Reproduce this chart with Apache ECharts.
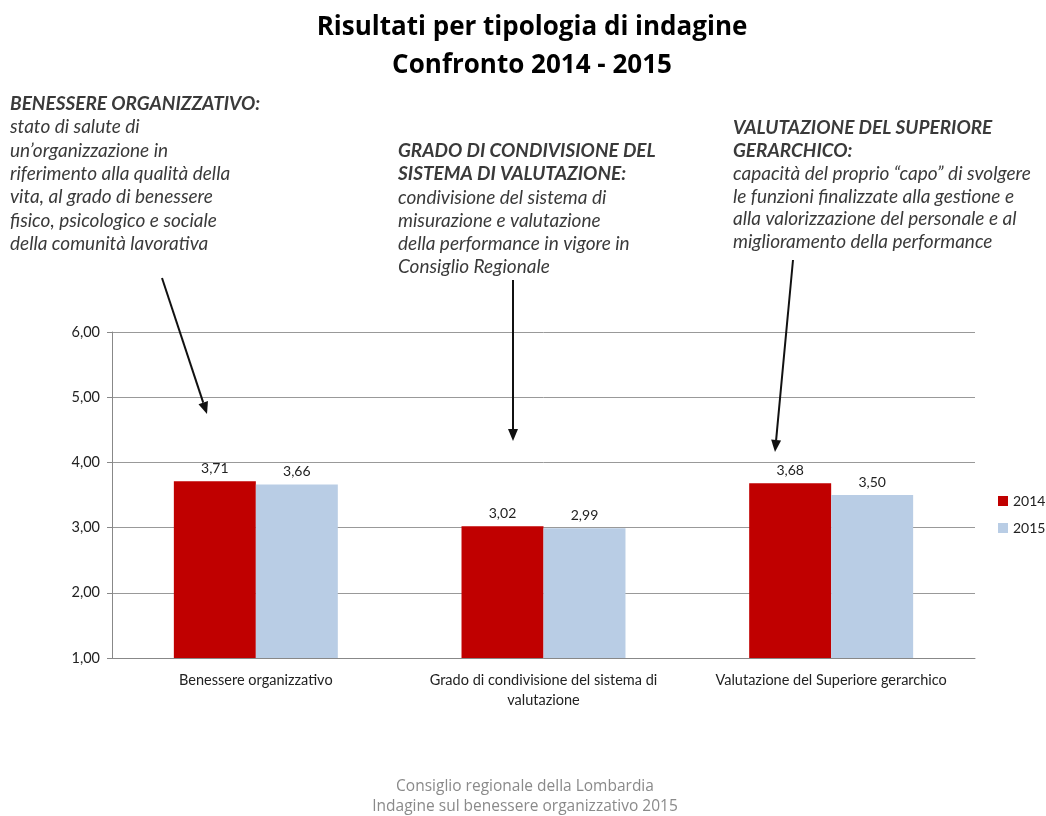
<!DOCTYPE html>
<html><head><meta charset="utf-8">
<script src="https://cdn.jsdelivr.net/npm/echarts@6/dist/echarts.min.js"></script>
<style>html,body{margin:0;padding:0;background:#fff}#c{width:1046px;height:816px}</style>
</head><body><div id="c"></div>
<script>
var categories = ['Benessere organizzativo', 'Grado di condivisione del sistema di\nvalutazione', 'Valutazione del Superiore gerarchico'];
var values2014 = [3.71, 3.02, 3.68];
var values2015 = [3.66, 2.99, 3.50];
var seriesNames = ['2014', '2015'];
var yTicks = {min: 1, max: 6, interval: 1};

var noteLeft = [
  {t: 'BENESSERE ORGANIZZATIVO:', b: true},
  {t: 'stato di salute di'}, {t: 'un\u2019organizzazione in'}, {t: 'riferimento alla qualità della'},
  {t: 'vita, al grado di benessere'}, {t: 'fisico, psicologico e sociale'}, {t: 'della comunità lavorativa'}
];
var noteMid = [
  {t: 'GRADO DI CONDIVISIONE DEL', b: true}, {t: 'SISTEMA DI VALUTAZIONE:', b: true},
  {t: 'condivisione del sistema di'}, {t: 'misurazione e valutazione'},
  {t: 'della performance in vigore in'}, {t: 'Consiglio Regionale'}
];
var noteRight = [
  {t: 'VALUTAZIONE DEL SUPERIORE', b: true}, {t: 'GERARCHICO:', b: true},
  {t: 'capacità del proprio \u201ccapo\u201d di svolgere'}, {t: 'le funzioni finalizzate alla gestione e'},
  {t: 'alla valorizzazione del personale e al'}, {t: 'miglioramento della performance'}
];
var titleLines = ['Risultati per tipologia di indagine', 'Confronto 2014 - 2015'];
var footerLines = ['Consiglio regionale della Lombardia', 'Indagine sul benessere organizzativo 2015'];

var FONT = 'Lato';
function fmt(v){ return v.toFixed(2).replace('.', ','); }

var graphics = [];
function addNote(lines, x, yc0, dy){
  lines.forEach(function(l, i){
    graphics.push({type:'text', x:x, y:yc0 + i*dy, style:{
      text:l.t, fontFamily:FONT, fontSize:19, fontStyle:'italic', fontWeight:l.b?'bold':'normal', fill:'#3a3a3a',
      verticalAlign:'middle', align:'left'}});
  });
}
addNote(noteLeft, 10, 104, 23.3);
addNote(noteMid, 398, 151, 23.2);
addNote(noteRight, 733, 128, 22.8);

function arrow(x1,y1,x2,y2){
  var ang = Math.atan2(y2-y1, x2-x1), L = 12, W = 5;
  var bx = x2 - L*Math.cos(ang), by = y2 - L*Math.sin(ang);
  var px = -Math.sin(ang), py = Math.cos(ang);
  graphics.push({type:'line', shape:{x1:x1,y1:y1,x2:bx,y2:by}, style:{stroke:'#111', lineWidth:2}, z:100});
  graphics.push({type:'polygon', shape:{points:[[x2,y2],[bx+px*W,by+py*W],[bx-px*W,by-py*W]]}, style:{fill:'#111'}, z:100});
}
arrow(162, 278, 207, 414);
arrow(513, 280, 513, 441);
arrow(793, 260, 775, 452);

titleLines.forEach(function(t, i){
  graphics.push({type:'text', x:532, y:28 + i*38, style:{text:t, fontFamily:'Open Sans', fontSize:26, fontWeight:'bold',
    fill:'#000', align:'center', verticalAlign:'middle'}});
});
footerLines.forEach(function(t, i){
  graphics.push({type:'text', x:525, y:787 + i*20, style:{text:t, fontFamily:'Open Sans', fontSize:15.5,
    fill:'#8a8a8a', align:'center', verticalAlign:'middle'}});
});

var chart = echarts.init(document.getElementById('c'));
chart.setOption({
  animation:false,
  backgroundColor:'#fff',
  grid:{left:112, right:71, top:332, bottom:158},
  legend:{orient:'vertical', left:998, top:494, padding:0, itemWidth:10, itemHeight:10, itemGap:13, icon:'rect',
    textStyle:{fontFamily:FONT, fontSize:14, color:'#222'}, data:seriesNames},
  xAxis:{type:'category', data:categories,
    axisLine:{lineStyle:{color:'#888'}}, axisTick:{show:false},
    axisLabel:{fontFamily:FONT, fontSize:14.5, color:'#222', margin:12, lineHeight:20, interval:0}},
  yAxis:{type:'value', min:yTicks.min, max:yTicks.max, interval:yTicks.interval,
    axisLine:{show:true, lineStyle:{color:'#888'}}, axisTick:{show:true, length:5, lineStyle:{color:'#888'}},
    splitLine:{lineStyle:{color:'#999'}},
    axisLabel:{fontFamily:FONT, fontSize:14.5, color:'#222', margin:12, formatter:function(v){return fmt(v);}}},
  series:[
    {name:seriesNames[0], type:'bar', data:values2014, barWidth:'28.5%', barGap:'0%', itemStyle:{color:'#C00000'},
      label:{show:true, position:'top', distance:6, fontFamily:FONT, fontSize:14, color:'#222', formatter:function(p){return fmt(p.value);}}},
    {name:seriesNames[1], type:'bar', data:values2015, barWidth:'28.5%', barGap:'0%', itemStyle:{color:'#B9CDE5'},
      label:{show:true, position:'top', distance:6, fontFamily:FONT, fontSize:14, color:'#222', formatter:function(p){return fmt(p.value);}}}
  ],
  graphic:graphics
});
</script></body></html>
